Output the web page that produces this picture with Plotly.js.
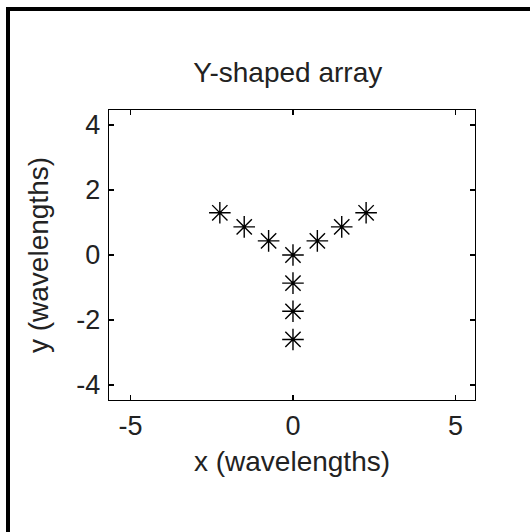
<!DOCTYPE html>
<html>
<head>
<meta charset="utf-8">
<script src="https://cdn.plot.ly/plotly-3.0.1.min.js"></script>
<style>
  html, body { margin: 0; padding: 0; background: #fff; }
  #wrap { position: relative; width: 530px; height: 532px; overflow: hidden; }
  #chart { position: absolute; left: 0; top: 0; width: 530px; height: 532px; }
  #frame { position: absolute; left: 6px; top: 7px; width: 600px; height: 600px;
           border-top: 4px solid #000; border-left: 4px solid #000; pointer-events: none; }
</style>
</head>
<body>
<div id="wrap">
  <div id="chart"></div>
  <div id="frame"></div>
</div>
<script>
// Element positions (wavelengths) of the Y-shaped array
const xPos = [0, 0.75, 1.5, 2.25, -0.75, -1.5, -2.25, 0, 0, 0];
const yPos = [0, 0.433, 0.866, 1.299, 0.433, 0.866, 1.299, -0.866, -1.732, -2.598];
const xTicks = [-5, 0, 5];
const xTickLabels = ['-5', '0', '5'];
const yTicks = [-4, -2, 0, 2, 4];
const yTickLabels = ['-4', '-2', '0', '2', '4'];
const titleText = 'Y-shaped array';
const xLabel = 'x (wavelengths)';
const yLabel = 'y (wavelengths)';

const fontFam = 'Liberation Sans, Arial, Helvetica, sans-serif';
const fsTick = 27;
const fsLab = 28;
const txtCol = '#222';
const trace = {
  x: xPos, y: yPos, type: 'scatter', mode: 'markers',
  marker: { symbol: 'asterisk-open', size: 18, color: '#000', line: { color: '#000', width: 1.4 } },
  hoverinfo: 'x+y'
};
const axisCommon = {
  showline: true, linecolor: '#000', linewidth: 1.3, mirror: 'allticks',
  ticks: 'inside', ticklen: 5, tickwidth: 1.3, tickcolor: '#000',
  showgrid: false, zeroline: false,
  tickfont: { family: fontFam, size: fsTick, color: txtCol }
};
const layout = {
  width: 530, height: 532,
  margin: { l: 109, r: 55, t: 110, b: 132 },
  paper_bgcolor: 'rgba(0,0,0,0)', plot_bgcolor: '#fff',
  showlegend: false,
  title: { text: titleText, x: 0.543, xanchor: 'center', y: 0.865, yanchor: 'middle',
           font: { family: fontFam, size: fsLab, color: txtCol } },
  xaxis: Object.assign({}, axisCommon, {
    range: [-5.66, 5.6], tickvals: xTicks, ticktext: xTickLabels, ticklabelstandoff: 1,
    title: { text: xLabel, standoff: 11, font: { family: fontFam, size: fsLab, color: txtCol } }
  }),
  yaxis: Object.assign({}, axisCommon, {
    range: [-4.46, 4.46], tickvals: yTicks, ticktext: yTickLabels, ticklabelstandoff: 2,
    title: { text: yLabel, standoff: 19, font: { family: fontFam, size: fsLab, color: txtCol } }
  })
};
Plotly.newPlot('chart', [trace], layout, { displayModeBar: false, staticPlot: true });
</script>
</body>
</html>
